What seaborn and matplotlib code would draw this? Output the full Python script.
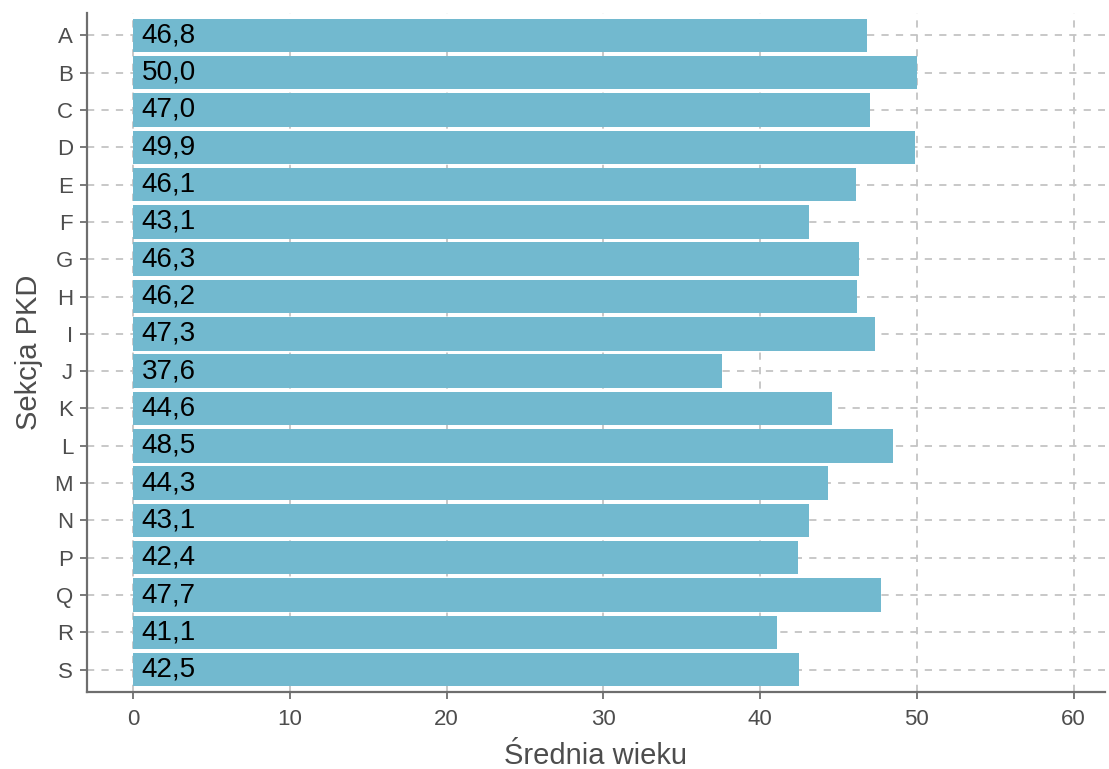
import matplotlib
matplotlib.use("Agg")
import matplotlib.pyplot as plt
import pandas as pd
import seaborn as sns

# Data
sekcje = ["A", "B", "C", "D", "E", "F", "G", "H", "I", "J",
          "K", "L", "M", "N", "P", "Q", "R", "S"]
srednia_wieku = [46.8, 50.0, 47.0, 49.9, 46.1, 43.1, 46.3, 46.2, 47.3, 37.6,
                 44.6, 48.5, 44.3, 43.1, 42.4, 47.7, 41.1, 42.5]
x_ticks = [0, 10, 20, 30, 40, 50, 60]

data = pd.DataFrame({"Sekcja": sekcje, "Srednia": srednia_wieku})

sns.set_style("white")
plt.rcParams["font.family"] = ["Liberation Sans", "DejaVu Sans"]

grid_col = "#c4c4c4"
axis_col = "#6e6e6e"
text_col = "#4d4d4d"

fig = plt.figure(figsize=(11.09, 7.69), dpi=100)
ax = fig.add_axes([0.0784, 0.1001, 0.918, 0.883])

sns.barplot(data=data, x="Srednia", y="Sekcja", orient="h",
            color="#72b9cf", saturation=1, width=0.9, linewidth=0,
            ax=ax, zorder=2)

# Value labels inside the bars, decimal comma
for i, v in enumerate(srednia_wieku):
    ax.text(0.55, i, f"{v:.1f}".replace(".", ","), ha="left",
            va="center", fontsize=20, color="black", zorder=3)

ax.set_xlim(-2.94, 62.0)
ax.set_ylim(len(sekcje) - 0.4, -0.6)
ax.set_xticks(x_ticks)

ax.grid(True, axis="both", color=grid_col, linestyle=(0, (4, 4)), linewidth=1.3)
ax.set_axisbelow(True)

for side in ["top", "right"]:
    ax.spines[side].set_visible(False)
for side in ["left", "bottom"]:
    ax.spines[side].set_color(axis_col)
    ax.spines[side].set_linewidth(1.6)

ax.tick_params(axis="both", which="major", length=5, width=1.3, color=axis_col,
               labelsize=16, labelcolor=text_col, direction="out",
               bottom=True, left=True)
ax.tick_params(axis="x", pad=7)
ax.tick_params(axis="y", pad=5)

ax.set_xlabel("Średnia wieku", fontsize=21, color=text_col, labelpad=9)
ax.set_ylabel("Sekcja PKD", fontsize=21, color=text_col, labelpad=8)

fig.savefig("out.png", dpi=100)
